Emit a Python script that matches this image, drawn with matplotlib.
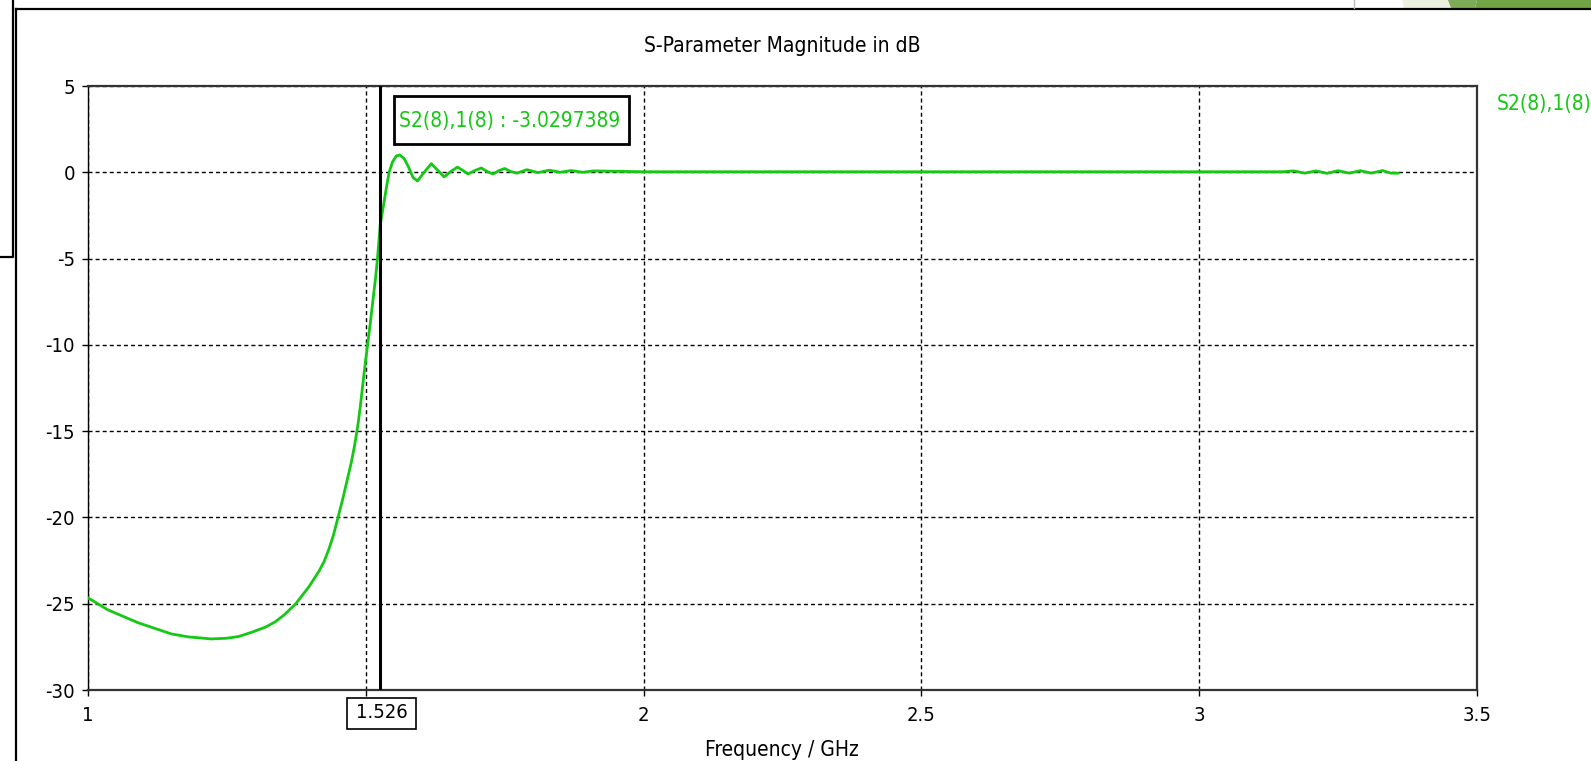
import matplotlib
matplotlib.use('Agg')
import matplotlib.pyplot as plt
from matplotlib.patches import Polygon, Rectangle
from matplotlib.lines import Line2D

plt.rcParams['font.family'] = ['DejaVu Sans']
plt.rcParams['font.stretch'] = 'condensed'
plt.rcParams['axes.unicode_minus'] = False

# S21 trace (GHz, dB)
freq = [1.00, 1.036, 1.09, 1.15, 1.18, 1.222, 1.25, 1.271, 1.295, 1.32,
        1.337, 1.353, 1.374, 1.398, 1.416, 1.425, 1.434, 1.442, 1.45, 1.458,
        1.466, 1.474, 1.48, 1.486, 1.49, 1.495, 1.50, 1.504, 1.509, 1.514,
        1.518, 1.521, 1.526, 1.532, 1.537, 1.542, 1.548, 1.555, 1.561, 1.569,
        1.577, 1.585, 1.593, 1.605, 1.618, 1.63, 1.641, 1.653, 1.665, 1.675,
        1.684, 1.696, 1.708, 1.718, 1.729, 1.74, 1.75, 1.76, 1.772, 1.79,
        1.81, 1.83, 1.85, 1.87, 1.89, 1.91, 2.0, 2.5, 3.0, 3.15,
        3.17, 3.19, 3.21, 3.23, 3.25, 3.27, 3.29, 3.31, 3.33, 3.345,
        3.358]
s21 = [-24.66, -25.36, -26.1, -26.75, -26.92, -27.04, -27.0, -26.9, -26.65, -26.35,
       -26.05, -25.65, -25.0, -24.0, -23.1, -22.55, -21.8, -21.0, -20.0, -19.0,
       -17.9, -16.8, -15.8, -14.6, -13.6, -12.2, -10.8, -9.8, -8.5, -7.1,
       -6.0, -5.0, -3.03, -1.9, -0.9, 0.0, 0.6, 0.95, 1.0, 0.8,
       0.3, -0.3, -0.5, 0.0, 0.5, 0.1, -0.27, 0.05, 0.3, 0.1,
       -0.1, 0.1, 0.25, 0.05, -0.1, 0.1, 0.22, 0.05, -0.05, 0.15,
       -0.02, 0.12, 0.0, 0.1, 0.0, 0.08, 0.03, 0.03, 0.03, 0.03,
       0.08, -0.05, 0.08, -0.06, 0.09, -0.05, 0.09, -0.05, 0.1, -0.05,
       -0.05]

marker_f = 1.526
marker_val = -3.0297389
trace_name = 'S2(8),1(8)'
xticks = [1, 1.5, 2, 2.5, 3, 3.5]
xticklabels = ['1', '', '2', '2.5', '3', '3.5']
yticks = [5, 0, -5, -10, -15, -20, -25, -30]

green = '#14c814'
fs = 15
W, H = 1591, 761
fig = plt.figure(figsize=(W / 100, H / 100), dpi=100)
ax = fig.add_axes([88 / W, 1 - 690 / H, (1477 - 88) / W, (690 - 86) / H])

ax.plot(freq, s21, color=green, lw=2.0, zorder=3)
ax.axvline(marker_f, color='k', lw=2.2, zorder=4)

ax.set_xlim(1, 3.5)
ax.set_ylim(-30, 5)
ax.set_xticks(xticks)
ax.set_xticklabels(xticklabels)
ax.set_yticks(yticks)
ax.set_yticklabels([str(v) for v in yticks])
ax.grid(True, color='k', lw=1.0, ls=(0, (2.9, 2.2)))
ax.tick_params(direction='out', length=4.3, width=1, labelsize=14.5,
               colors='k')
ax.tick_params(axis='x', pad=7)
ax.tick_params(axis='y', pad=5)
for s in ['top', 'right', 'bottom']:
    ax.spines[s].set_color('#333333')
    ax.spines[s].set_linewidth(1.6)
ax.spines['left'].set_color('k')
ax.spines['left'].set_linewidth(1.0)

def fx(x):
    return x / W

def fy(y):
    return 1 - y / H

fig.text(fx(782), fy(46), 'S-Parameter Magnitude in dB', ha='center',
         va='center', fontsize=fs)
fig.text(fx(782), fy(750), 'Frequency / GHz', ha='center', va='center',
         fontsize=fs)
fig.text(fx(1497), fy(104), trace_name, ha='left', va='center',
         fontsize=fs, color=green)

# marker readout box
fig.patches.append(Rectangle((fx(394), fy(144)), (629 - 394) / W, 48 / H,
                             transform=fig.transFigure, fill=True,
                             facecolor='white', edgecolor='k', lw=2, zorder=5))
fig.text(fx(399), fy(121), '%s : %.7f' % (trace_name, marker_val),
         ha='left', va='center', fontsize=fs, color=green, zorder=6)

# marker frequency box on x axis
fig.patches.append(Rectangle((fx(347), fy(729)), (416 - 347) / W, 31 / H,
                             transform=fig.transFigure, fill=False,
                             edgecolor='k', lw=1.2))
fig.text(fx(381.5), fy(713), '%.3f' % marker_f, ha='center', va='center',
         fontsize=14.5)

# window frame bits around the plot
fig.lines.append(Line2D([fx(16), fx(W)], [fy(9), fy(9)],
                        transform=fig.transFigure, color='k', lw=1.6))
fig.lines.append(Line2D([fx(16), fx(16)], [fy(9), fy(H)],
                        transform=fig.transFigure, color='k', lw=1.6))
fig.lines.append(Line2D([fx(12.5), fx(12.5), fx(0)], [fy(0), fy(257), fy(257)],
                        transform=fig.transFigure, color='k', lw=1.6))
fig.lines.append(Line2D([fx(1354), fx(1354)], [fy(0), fy(8)],
                        transform=fig.transFigure, color='#bbbbbb', lw=1))
for pts, col in [([(1402, 0), (1448, 0), (1451, 8), (1404, 8)], '#ebf1de'),
                 ([(1448, 0), (1477, 0), (1475, 8), (1451, 8)], '#7dab57'),
                 ([(1477, 0), (W, 0), (W, 8), (1475, 8)], '#70a444')]:
    fig.patches.append(Polygon([(fx(a), fy(b)) for a, b in pts], closed=True,
                               transform=fig.transFigure, facecolor=col,
                               edgecolor='none'))

fig.savefig('out.png', dpi=100)
